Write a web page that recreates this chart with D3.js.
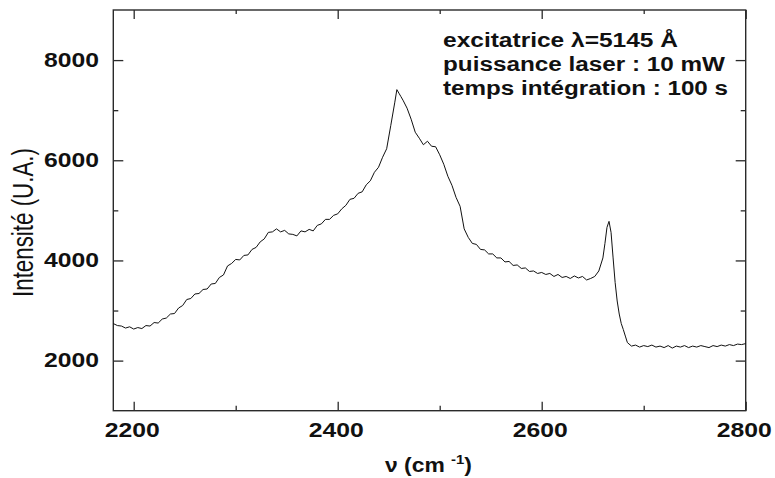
<!DOCTYPE html>
<html>
<head>
<meta charset="utf-8">
<script src="https://cdn.jsdelivr.net/npm/d3@7"></script>
<style>
  html, body { margin: 0; padding: 0; background: #fff; }
  svg { display: block; }
  text { font-family: "Liberation Sans", Arial, sans-serif; fill: #111; }
</style>
</head>
<body>
<svg id="chart" width="775" height="478"></svg>
<script>
// ---- data ----
const wavenumber = [
  2180,2184,2188,2192,2196,2200,2204,2208,2212,2216,2220,2224,2228,2232,2236,2240,2244,2248,2252,2256,
  2260,2264,2268,2272,2276,2280,2284,2288,2292,2296,2300,2304,2308,2312,2316,2320,2324,2328,2332,2336,
  2340,2344,2348,2352,2356,2360,2364,2368,2372,2376,2380,2384,2388,2392,2396,2400,2404,2408,2412,2416,
  2420,2424,2428,2432,2436,2440,2444,2448,2452,2456,2458,2460,2462,2464,2468,2472,2476,2480,2484,2488,
  2492,2496,2500,2504,2508,2512,2516,2520,2524,2528,2532,2536,2540,2544,2548,2552,2556,2560,2564,2568,
  2572,2576,2580,2584,2588,2592,2596,2600,2604,2608,2612,2616,2620,2624,2628,2632,2636,2640,2644,2648,
  2652,2656,2660,2662,2664,2666,2668,2670,2672,2674,2676,2678,2680,2682,2684,2688,2692,2696,2700,2704,
  2708,2712,2716,2720,2724,2728,2732,2736,2740,2744,2748,2752,2756,2760,2764,2768,2772,2776,2780,2784,
  2788,2792,2796,2800
];
const intensity = [
  2740,2700,2690,2650,2675,2630,2660,2640,2700,2690,2760,2750,2830,2850,2930,2940,3050,3100,3220,3240,
  3330,3340,3420,3430,3530,3540,3660,3710,3890,3940,4020,4010,4100,4110,4220,4260,4370,4430,4560,4570,
  4630,4570,4600,4530,4520,4490,4590,4570,4620,4590,4700,4730,4820,4820,4900,4930,5030,5100,5220,5240,
  5340,5370,5510,5590,5760,5860,6060,6230,6690,7160,7410,7340,7270,7200,7040,6820,6560,6440,6310,6380,
  6280,6270,6110,5920,5680,5500,5260,5080,4630,4460,4340,4320,4220,4210,4130,4130,4050,4050,3970,3980,
  3900,3910,3840,3850,3780,3790,3740,3760,3720,3740,3680,3720,3660,3680,3640,3690,3650,3680,3610,3640,
  3680,3790,4050,4340,4660,4780,4560,4050,3560,3190,2930,2740,2620,2490,2360,2290,2310,2270,2300,2280,
  2310,2270,2290,2260,2300,2250,2290,2270,2300,2260,2290,2270,2300,2280,2260,2300,2280,2310,2290,2320,
  2300,2330,2320,2340
];
const xMajorTicks = [2200, 2400, 2600, 2800];
const xMinorTicks = [2300, 2500, 2700];
const yMajorTicks = [2000, 4000, 6000, 8000];
const yMinorTicks = [3000, 5000, 7000];
const xDomain = [2180, 2800];
const yDomain = [1000, 9000];
const annotations = ["excitatrice λ=5145 Å", "puissance laser : 10 mW", "temps intégration : 100 s"];
const xTitle = ["ν (cm", "-1", ")"];
const yTitle = "Intensité (U.A.)";

// ---- layout ----
const L = 113.3, R = 745.7, T = 10, B = 410.7;
const svg = d3.select("#chart");
const x = d3.scaleLinear().domain(xDomain).range([L, R]);
const y = d3.scaleLinear().domain(yDomain).range([B, T]);
const axisColor = "#2a2a2a";

function styleAxis(g) {
  g.select(".domain").remove();
  g.selectAll(".tick line").attr("stroke", axisColor).attr("stroke-width", 1.3);
}

// bottom major (with labels)
const gxb = svg.append("g").attr("transform", `translate(0,${B})`)
  .call(d3.axisBottom(x).tickValues(xMajorTicks).tickSize(-9).tickFormat(d3.format("d")));
styleAxis(gxb);
gxb.selectAll(".tick text")
  .attr("dy", null).attr("y", 26.3).attr("x", -2)
  .attr("fill", "#111").attr("font-size", 21).attr("font-weight", "bold")
  .attr("font-family", "Liberation Sans, Arial, sans-serif")
  .attr("text-anchor", "middle")
  .attr("textLength", 55).attr("lengthAdjust", "spacingAndGlyphs");
// bottom minor
styleAxis(svg.append("g").attr("transform", `translate(0,${B})`)
  .call(d3.axisBottom(x).tickValues(xMinorTicks).tickSize(-5).tickFormat(() => "")));
// top
styleAxis(svg.append("g").attr("transform", `translate(0,${T})`)
  .call(d3.axisTop(x).tickValues(xMajorTicks).tickSize(-9).tickFormat(() => "")));
styleAxis(svg.append("g").attr("transform", `translate(0,${T})`)
  .call(d3.axisTop(x).tickValues(xMinorTicks).tickSize(-4).tickFormat(() => "")));

// left major (with labels)
const gyl = svg.append("g").attr("transform", `translate(${L},0)`)
  .call(d3.axisLeft(y).tickValues(yMajorTicks).tickSize(-10).tickFormat(d3.format("d")));
styleAxis(gyl);
gyl.selectAll(".tick text")
  .attr("dy", null).attr("y", 6).attr("x", 44 - L)
  .attr("fill", "#111").attr("font-size", 21).attr("font-weight", "bold")
  .attr("font-family", "Liberation Sans, Arial, sans-serif")
  .attr("text-anchor", "start")
  .attr("textLength", 55).attr("lengthAdjust", "spacingAndGlyphs");
styleAxis(svg.append("g").attr("transform", `translate(${L},0)`)
  .call(d3.axisLeft(y).tickValues(yMinorTicks).tickSize(-5).tickFormat(() => "")));
// right
styleAxis(svg.append("g").attr("transform", `translate(${R},0)`)
  .call(d3.axisRight(y).tickValues(yMajorTicks).tickSize(-10).tickFormat(() => "")));
styleAxis(svg.append("g").attr("transform", `translate(${R},0)`)
  .call(d3.axisRight(y).tickValues(yMinorTicks).tickSize(-5).tickFormat(() => "")));

// frame
svg.append("rect")
  .attr("x", L).attr("y", T).attr("width", R - L).attr("height", B - T)
  .attr("fill", "none").attr("stroke", axisColor).attr("stroke-width", 1.4);

// spectrum
const pts = wavenumber.map((v, i) => [v, intensity[i]]);
svg.append("path")
  .datum(pts)
  .attr("fill", "none")
  .attr("stroke", "#111")
  .attr("stroke-width", 1)
  .attr("stroke-linejoin", "round")
  .attr("d", d3.line().x(d => x(d[0])).y(d => y(d[1])));

// annotation
const annY = [46.7, 71, 95.3];
const annW = [235, 282, 285];
svg.selectAll("text.ann").data(annotations).join("text")
  .attr("class", "ann")
  .attr("x", 443).attr("y", (d, i) => annY[i])
  .attr("font-size", 20).attr("font-weight", "bold")
  .attr("textLength", (d, i) => annW[i]).attr("lengthAdjust", "spacingAndGlyphs")
  .text(d => d);

// x title
const xt = svg.append("text")
  .attr("x", 385).attr("y", 471.7)
  .attr("font-size", 20).attr("font-weight", "bold")
  .attr("textLength", 87).attr("lengthAdjust", "spacingAndGlyphs");
xt.append("tspan").text(xTitle[0] + " ");
xt.append("tspan").attr("font-size", 13).attr("dy", -8).text(xTitle[1]);
xt.append("tspan").attr("dy", 8).text(xTitle[2]);

// y title
svg.append("text")
  .attr("transform", "translate(33.3,222.5) rotate(-90)")
  .attr("text-anchor", "middle")
  .attr("font-size", 29)
  .attr("textLength", 149).attr("lengthAdjust", "spacingAndGlyphs")
  .text(yTitle);
</script>
</body>
</html>
